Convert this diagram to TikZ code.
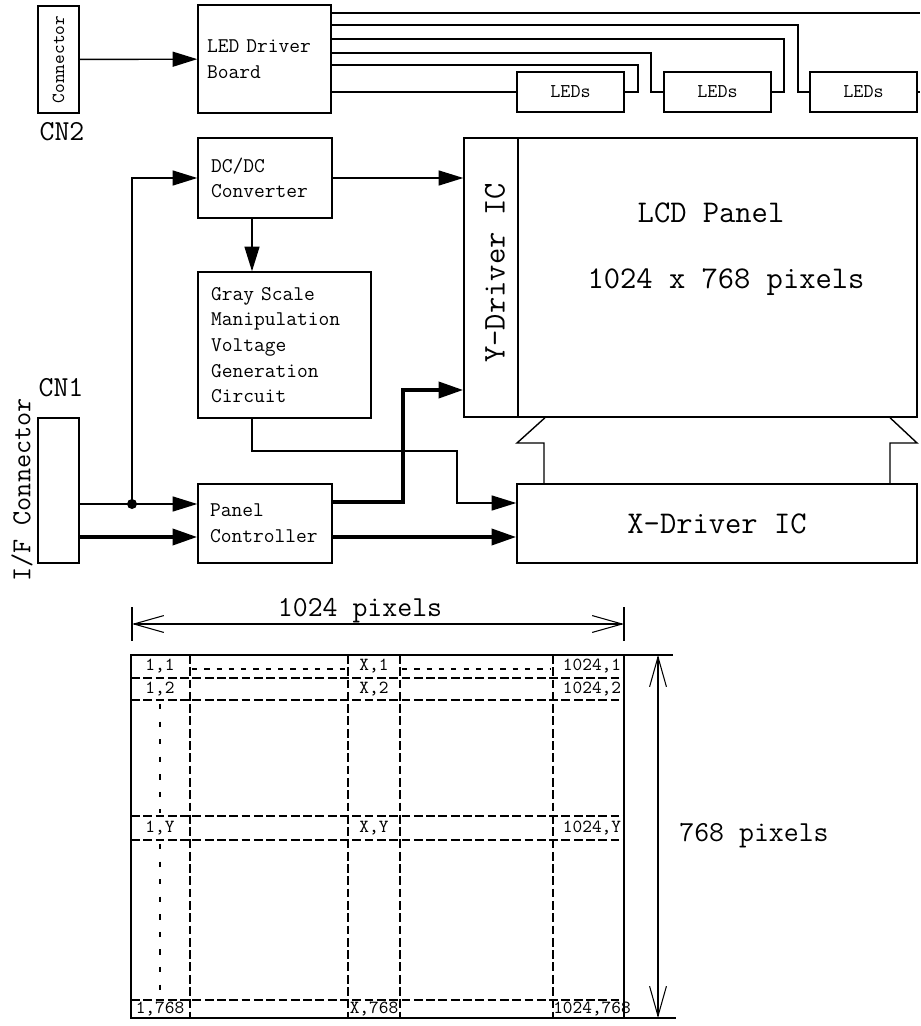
\documentclass[tikz,border=0pt]{standalone}
\usetikzlibrary{arrows.meta}

\newlength\px
\setlength\px{0.02cm}
\newcommand\fbig{\ttfamily\fontsize{18}{21}\selectfont}
\newcommand\fmid{\ttfamily\fontsize{16.5}{19}\selectfont}
\newcommand\fif{\ttfamily\fontsize{15.6}{18}\selectfont}
\newcommand\fblk{\ttfamily\fontsize{11.9}{14.6}\selectfont}
\newcommand\fled{\ttfamily\fontsize{11.1}{13}\selectfont}
\newcommand\fsmall{\ttfamily\fontsize{10.5}{12}\selectfont}

\tikzset{
  blk/.style={draw, line width=0.8pt, inner sep=0pt},
  txtblk/.style={blk, align=left, font=\fblk, inner xsep=13\px},
  wire/.style={line width=0.8pt},
  sig/.style={line width=0.8pt, -{Triangle[length=14pt,width=8.5pt]}},
  bus/.style={line width=2.3pt, -{Triangle[length=14pt,width=9pt]}},
  dimline/.style={line width=0.6pt, {Straight Barb[length=17pt,width=9.6pt]}-{Straight Barb[length=17pt,width=9.6pt]}},
  gridline/.style={line width=0.6pt, dash pattern=on 5pt off 2pt},
  dots/.style={line width=0.6pt, dash pattern=on 3pt off 4pt},
}

\begin{document}
\begin{tikzpicture}[x=0.02cm, y=-0.02cm]
\useasboundingbox (0,0) rectangle (920,1026);

% LED part
\node[blk, minimum width=41\px, minimum height=107\px] (cntwo) at (58.5,59.5) {};
\node[rotate=90, font=\fsmall] at (cntwo) {Connector};
\node[font=\fmid, anchor=base] at (62,141) {CN2};
\node[txtblk, inner xsep=9\px, text width=115\px, minimum height=108\px] (ledboard) at (264.5,59) {LED Driver\\Board};
\foreach \n/\x in {1/570.5, 2/717.5, 3/863.5}
  \node[blk, font=\fled, minimum width=107\px, minimum height=40\px] (leds\n) at (\x,92) {LEDs};
\coordinate (topend) at (920,13);
\coordinate (ledend) at (920,92);

\draw[sig] (cntwo) -- (ledboard);
\draw[wire] (ledboard.east |- 0,13) -- (topend);
\draw[wire] (ledboard.east |- 0,25) -- (798,25) |- (leds3.west);
\draw[wire] (ledboard.east |- 0,39) -- (784,39) |- (leds2.east);
\draw[wire] (ledboard.east |- 0,53) -- (651,53) |- (leds2.west);
\draw[wire] (ledboard.east |- 0,65) -- (638,65) |- (leds1.east);
\draw[wire] (ledboard.east |- leds1.west) -- (leds1.west);
\draw[wire] (leds3.east) -- (ledend);

% panel part
\node[txtblk, text width=108\px, minimum height=80\px] (dcdc) at (265,178) {DC/DC\\Converter};
\node[txtblk, text width=147\px, minimum height=146\px] (gray) at (284.5,345) {Gray Scale\\Manipulation\\Voltage\\Generation\\Circuit};
\node[txtblk, inner xsep=12\px, text width=110\px, minimum height=79\px] (panel) at (265,523.5) {Panel\\Controller};
\node[blk, minimum width=54\px, minimum height=279\px] (ydrv) at (491,277.5) {};
\node[rotate=90, font=\fbig] at (495,273) {Y-Driver IC};
\node[blk, minimum width=399\px, minimum height=279\px] (lcd) at (717.5,277.5) {};
\node[font=\fbig, anchor=base] at (711,223) {LCD Panel};
\node[font=\fbig, anchor=base] at (726,289) {1024 x 768 pixels};
\node[blk, font=\fbig, minimum width=400\px, minimum height=79\px] (xdrv) at (717,523.5) {X-Driver IC};
\node[blk, minimum width=41\px, minimum height=145\px] (cnone) at (58.5,490.5) {};
\node[font=\fmid, anchor=base] at (61,397) {CN1};
\node[rotate=90, font=\fif] at (22,490) {I/F Connector};

\coordinate (jn) at (132,504);
\draw[sig] (cnone.east |- jn) -- (panel.west |- jn);
\fill (jn) circle[radius=5\px];
\draw[sig] (jn) |- (dcdc.west);
\draw[bus] (cnone.east |- 0,537) -- (panel.west |- 0,537);
\draw[sig] (dcdc.east) -- (ydrv.west |- dcdc.east);
\draw[sig] (dcdc.south -| 252,0) -- (gray.north -| 252,0);
\draw[bus] (panel.east |- 0,502) -- (403,502) |- (ydrv.west |- 0,390);
\draw[bus] (panel.east |- 0,537) -- (xdrv.west |- 0,537);
\draw[sig] (gray.south -| 252,0) |- (457,451) |- (xdrv.west |- 0,503);
\draw[wire] (lcd.south -| 545,0) -- (517,443) -- (544,443) -- (xdrv.north -| 544,0);
\draw[wire] (lcd.south -| 890,0) -- (917,443) -- (890,443) -- (xdrv.north -| 890,0);

% pixel layout
\draw[wire] (131,655) rectangle (624,1018);
\foreach \y in {678,700,816,840,1000}
  \draw[gridline] (131,\y) -- (624,\y);
\foreach \x in {190,348,400,553}
  \draw[gridline] (\x,655) -- (\x,1018);
\draw[dots] (192,669) -- (346,669);
\draw[dots] (402,669) -- (551,669);
\draw[dots, dash pattern=on 3pt off 7pt] (160,704) -- (160,813);
\draw[dots, dash pattern=on 3pt off 7pt] (160,844) -- (160,998);
\foreach \y/\r in {666/1, 689/2, 828/Y, 1009/768} {
  \node[font=\fsmall] at (160,\y) {1,\r};
  \node[font=\fsmall] at (374,\y) {X,\r};
  \node[font=\fsmall] at (592,\y) {1024,\r};
}

% dimensions
\draw[line width=0.6pt] (132,607) -- (132,641);
\draw[line width=0.6pt] (624,607) -- (624,641);
\draw[dimline] (132,624) -- (624,624);
\node[font=\fmid, anchor=base] at (360,616) {1024 pixels};
\draw[line width=0.6pt] (624,655) -- (673,655);
\draw[line width=0.6pt] (624,1018) -- (676,1018);
\draw[dimline] (658,655) -- (658,1018);
\node[font=\fmid, anchor=base] at (754,841) {768 pixels};
\end{tikzpicture}
\end{document}
